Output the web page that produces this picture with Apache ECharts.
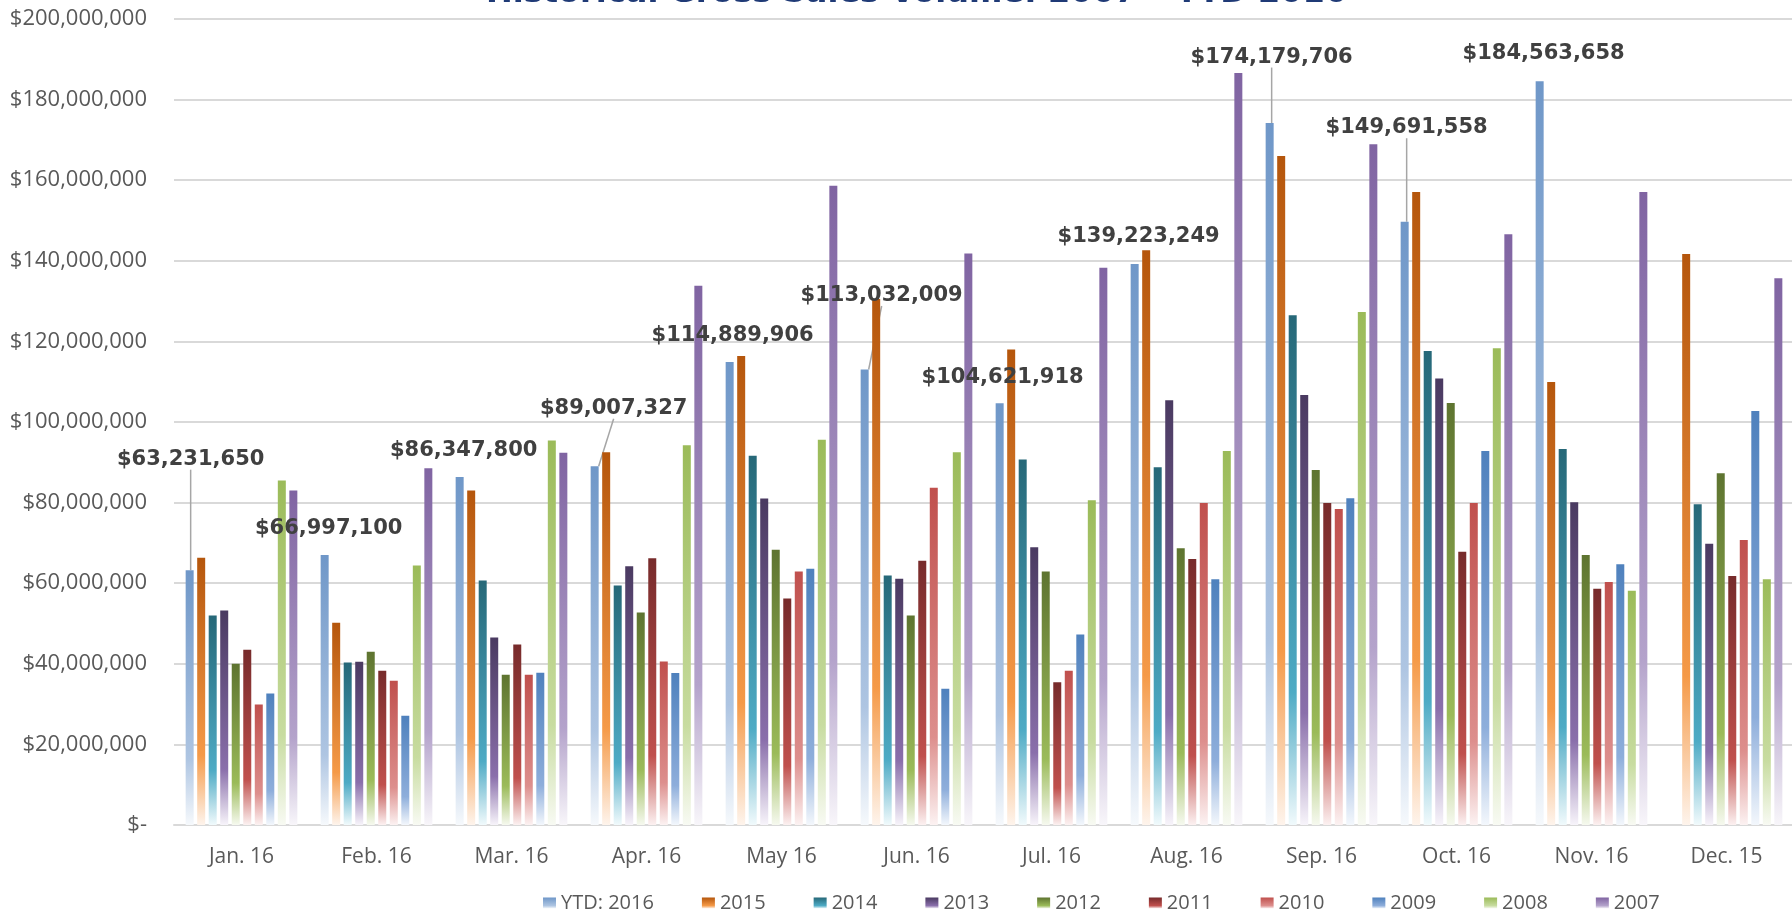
<!DOCTYPE html>
<html>
<head>
<meta charset="utf-8">
<title>Historical Gross Sales Volume</title>
<script src="https://cdn.jsdelivr.net/npm/echarts@6/dist/echarts.min.js"></script>
<style>
  html, body { margin: 0; padding: 0; background: #fff; }
  #chart { width: 1792px; height: 911px; }
</style>
</head>
<body>
<div id="chart"></div>
<script>
// categories (months)
const categories = ['Jan. 16', 'Feb. 16', 'Mar. 16', 'Apr. 16', 'May 16', 'Jun. 16',
  'Jul. 16', 'Aug. 16', 'Sep. 16', 'Oct. 16', 'Nov. 16', 'Dec. 15'];

const seriesNames = ['YTD: 2016', '2015', '2014', '2013', '2012', '2011', '2010', '2009', '2008', '2007'];

// values in dollars (YTD ones are labelled)
const ytd2016 = [63231650, 66997100, 86347800, 89007327, 114889906, 113032009,
  104621918, 139223249, 174179706, 149691558, 184563658, null];
const v2015 = [66300000, 50200000, 83000000, 92500000, 116400000, 130500000, 118000000, 142600000, 166000000, 157100000, 109900000, 141700000];
const v2014 = [52000000, 40300000, 60700000, 59400000, 91600000, 61900000, 90700000, 88800000, 126500000, 117600000, 93300000, 79600000];
const v2013 = [53200000, 40500000, 46500000, 64200000, 81000000, 61100000, 68900000, 105400000, 106700000, 110800000, 80100000, 69800000];
const v2012 = [40000000, 43000000, 37300000, 52700000, 68300000, 52000000, 62900000, 68700000, 88100000, 104700000, 67000000, 87300000];
const v2011 = [43500000, 38300000, 44800000, 66200000, 56200000, 65600000, 35400000, 66000000, 79900000, 67800000, 58600000, 61800000];
const v2010 = [29900000, 35800000, 37300000, 40600000, 62900000, 83700000, 38300000, 79900000, 78400000, 79900000, 60300000, 70700000];
const v2009 = [32600000, 27100000, 37800000, 37700000, 63600000, 33800000, 47300000, 61000000, 81100000, 92800000, 64700000, 102700000];
const v2008 = [85500000, 64400000, 95400000, 94200000, 95600000, 92500000, 80600000, 92800000, 127300000, 118300000, 58100000, 61000000];
const v2007 = [83000000, 88500000, 92400000, 133800000, 158600000, 141800000, 138300000, 186600000, 168900000, 146600000, 157100000, 135700000];

const allValues = [ytd2016, v2015, v2014, v2013, v2012, v2011, v2010, v2009, v2008, v2007];

// gradient colours per series: top, lighter middle, pale bottom
const palette = [
  ['#6f97c8', '#aec5e2', '#f6f9fc'],
  ['#b5560c', '#f59a48', '#fef4ec'],
  ['#266878', '#4eabc5', '#f1fafc'],
  ['#4a3a61', '#8a6fab', '#f7f4fa'],
  ['#5e7430', '#9bbb59', '#f6f9ef'],
  ['#772b2b', '#c0504d', '#fcf1f1'],
  ['#c0504d', '#dd8f8d', '#fcf2f2'],
  ['#4f81bd', '#8eaedb', '#f3f7fc'],
  ['#9bbb59', '#c8dca0', '#f8faf3'],
  ['#8064a2', '#b4a3cb', '#f8f6fa']
];

// label placement for the YTD values: [dx, dy] from bar top centre, leader line flag
const labelOffsets = [[1, -111], [4, -26], [4, -26], [19, -58], [3, -26], [17, -74],
  [3, -26], [4, -27], [2, -66], [2, -94], [4, -28], null];
const leaderLines = [0, 3, 5, 8, 9];

const money = v => '$' + Math.round(v).toLocaleString('en-US');

const myChart = echarts.init(document.getElementById('chart'));

const series = seriesNames.map((name, s) => {
  const c = palette[s];
  const item = {
    name: name,
    type: 'bar',
    barWidth: 8,
    barGap: '44%',
    itemStyle: {
      color: new echarts.graphic.LinearGradient(0, 0, 0, 1, [
        { offset: 0, color: c[0] },
        { offset: 0.74, color: c[1] },
        { offset: 1, color: c[2] }
      ])
    },
    data: allValues[s]
  };
  if (s === 0) {
    item.data = ytd2016.map((v, i) => ({
      value: v,
      labelLine: { show: leaderLines.indexOf(i) >= 0 }
    }));
    item.label = {
      show: true,
      position: 'top',
      formatter: p => money(p.value),
      fontFamily: 'DejaVu Sans',
      fontWeight: 'bold',
      fontSize: 21,
      color: '#404040'
    };
    item.labelLine = {
      show: false,
      lineStyle: { color: '#a6a6a6', width: 1.5 }
    };
    item.labelLayout = function (params) {
      const off = labelOffsets[params.dataIndex];
      if (!off) return {};
      const r = params.rect;
      const top = Math.min(r.y, r.y + r.height);
      return {
        x: r.x + r.width / 2 + off[0],
        y: top + off[1],
        align: 'center',
        verticalAlign: 'middle'
      };
    };
  }
  return item;
});

myChart.setOption({
  backgroundColor: '#ffffff',
  animation: false,
  title: {
    text: 'Historical Gross Sales Volume: 2007 – YTD 2016',
    left: 481,
    top: -27,
    textStyle: {
      fontFamily: 'DejaVu Sans',
      fontWeight: 'bold',
      fontSize: 32,
      color: '#1f3a76'
    }
  },
  legend: {
    data: seriesNames,
    left: 538,
    top: 888,
    icon: 'rect',
    itemWidth: 13,
    itemHeight: 11,
    itemGap: 48,
    textStyle: { fontFamily: 'Open Sans', fontSize: 20, color: '#595959' }
  },
  grid: {
    left: 174,
    top: 19,
    width: 1620,
    height: 806,
    outerBoundsMode: 'none'
  },
  xAxis: {
    type: 'category',
    data: categories,
    axisLine: { lineStyle: { color: '#d9d9d9', width: 2 } },
    axisTick: { show: false },
    axisLabel: { fontFamily: 'Open Sans', fontSize: 21, color: '#595959', margin: 22 }
  },
  yAxis: {
    type: 'value',
    min: 0,
    max: 200000000,
    interval: 20000000,
    axisLine: { show: false },
    axisTick: { show: false },
    splitLine: { lineStyle: { color: '#d9d9d9', width: 2 } },
    axisLabel: {
      fontFamily: 'Open Sans',
      fontSize: 22,
      color: '#595959',
      margin: 27,
      formatter: v => (v === 0 ? '$-' : money(v))
    }
  },
  series: series
});
</script>
</body>
</html>
